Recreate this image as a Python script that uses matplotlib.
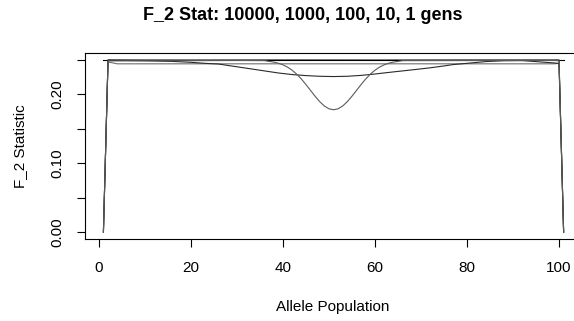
#!/usr/bin/env python3
"""F_2 statistic across the allele population after 10000, 1000, 100, 10 and 1 generations."""
import matplotlib
matplotlib.use("Agg")
import matplotlib.pyplot as plt

plt.rcParams["font.family"] = ["Liberation Sans", "DejaVu Sans"]

TITLE = "F_2 Stat: 10000, 1000, 100, 10, 1 gens"
XTICKS = [0, 20, 40, 60, 80, 100]
YTICKS = [0.00, 0.05, 0.10, 0.15, 0.20, 0.25]
YTICK_LABELS = ["0.00", "", "0.10", "", "0.20", ""]

# per-generation curves (vertices along population index 1..101)
gen1_x = [1, 101]
gen1_y = [0.250, 0.250]

gen10_x = [1, 2, 20, 40, 60, 80, 100, 101]
gen10_y = [0.0, 0.2498, 0.2497, 0.2498, 0.2497, 0.2498, 0.2498, 0.0]

gen100_x = [1, 2, 4, 99, 100, 101]
gen100_y = [0.0, 0.2470, 0.2443, 0.2443, 0.2450, 0.0]

gen1000_x = [1, 2, 10, 16, 20, 23, 26, 30, 33, 36, 39, 42, 45, 48, 51, 54, 57,
             60, 63, 66, 69, 72, 75, 77, 80, 84, 88, 92, 99, 100, 101]
gen1000_y = [0.0, 0.2495, 0.2488, 0.2478, 0.2465, 0.2450, 0.2440, 0.2400,
             0.2370, 0.2340, 0.2310, 0.2287, 0.2272, 0.2262, 0.2258, 0.2262,
             0.2275, 0.2295, 0.2318, 0.2340, 0.2362, 0.2385, 0.2412, 0.2432,
             0.2450, 0.2475, 0.2488, 0.2490, 0.2455, 0.2448, 0.0]

gen10000_x = [1, 2, 30, 36, 37, 38, 39, 40, 41, 42, 43, 44, 45, 46, 47, 48, 49,
              50, 51, 52, 53, 54, 55, 56, 57, 58, 59, 60, 61, 62, 63, 64, 65,
              66, 99, 100, 101]
gen10000_y = [0.0, 0.2485, 0.2492, 0.2490, 0.2478, 0.2468, 0.2452, 0.2428,
              0.2395, 0.2350, 0.2293, 0.2223, 0.2143, 0.2057, 0.1972, 0.1894,
              0.1831, 0.1790, 0.1776, 0.1790, 0.1831, 0.1894, 0.1972, 0.2057,
              0.2143, 0.2223, 0.2293, 0.2350, 0.2395, 0.2428, 0.2452, 0.2468,
              0.2478, 0.2490, 0.2492, 0.2488, 0.0]


def main():
    fig = plt.figure(figsize=(5.74, 3.21), dpi=100)
    ax = fig.add_axes([0.1481, 0.2555, 0.8659, 0.5794])

    ax.plot(gen1_x, gen1_y, color="black", lw=0.8)
    ax.plot(gen10_x, gen10_y, color="black", lw=0.8)
    ax.plot(gen100_x, gen100_y, color="#6e6e6e", lw=0.8)
    ax.plot(gen1000_x, gen1000_y, color="#2a2a2a", lw=0.8)
    ax.plot(gen10000_x, gen10000_y, color="#5a5a5a", lw=0.8)

    ax.set_xlim(-3, 105)
    ax.set_ylim(-0.01, 0.26)
    ax.set_xticks(XTICKS)
    ax.set_xticklabels([str(t) for t in XTICKS])
    ax.set_yticks(YTICKS)
    ax.set_yticklabels(YTICK_LABELS, rotation=90, va="center")
    ax.tick_params(axis="both", direction="out", length=6, width=0.8,
                   labelsize=11, colors="black")
    ax.tick_params(axis="x", pad=10)
    ax.tick_params(axis="y", pad=9)
    for sp in ax.spines.values():
        sp.set_linewidth(0.8)
        sp.set_color("black")

    fig.text(303 / 574, 1 - 15 / 321, TITLE, ha="center", va="center",
             fontsize=13, fontweight="bold")
    fig.text(333 / 574, 1 - 307 / 321, "Allele Population", ha="center",
             va="center", fontsize=11)
    fig.text(20 / 574, 1 - 146 / 321, "F_2 Statistic", ha="center",
             va="center", rotation=90, fontsize=11)

    fig.savefig("out.png", dpi=100)
    plt.close(fig)


if __name__ == "__main__":
    main()
